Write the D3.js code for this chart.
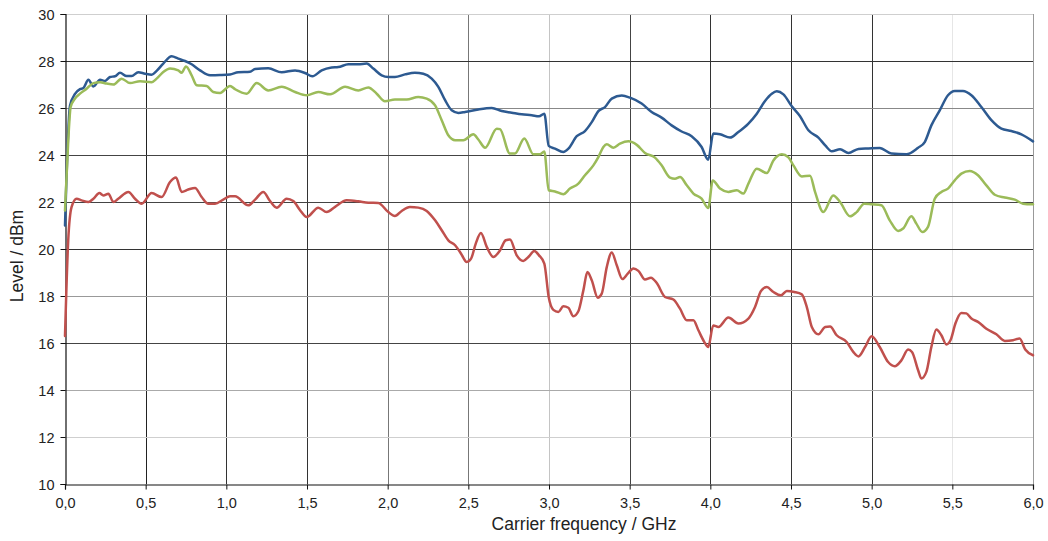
<!DOCTYPE html>
<html>
<head>
<meta charset="utf-8">
<script src="https://cdn.jsdelivr.net/npm/d3@7"></script>
<style>
  html, body { margin: 0; padding: 0; background: #fff; }
  svg { display: block; }
  text { font-family: "Liberation Sans", Arial, sans-serif; fill: #222; }
</style>
</head>
<body>
<svg id="chart" width="1048" height="541"></svg>
<script>
// ---------- data (frequency GHz, level dBm) ----------
const xTicks = [0, 0.5, 1, 1.5, 2, 2.5, 3, 3.5, 4, 4.5, 5, 5.5, 6];
const yTicks = [10, 12, 14, 16, 18, 20, 22, 24, 26, 28, 30];

const seriesBlue = [[0,21.0],[0.031,26.1],[0.062,26.6],[0.093,26.8],[0.114,26.85],[0.145,27.2],[0.176,26.92],[0.217,27.2],[0.248,27.15],[0.279,27.32],[0.31,27.35],[0.341,27.5],[0.382,27.36],[0.413,27.36],[0.454,27.52],[0.496,27.46],[0.537,27.42],[0.568,27.58],[0.609,27.89],[0.661,28.2],[0.702,28.1],[0.744,28.0],[0.785,27.86],[0.837,27.6],[0.899,27.39],[0.961,27.4],[1.023,27.43],[1.074,27.52],[1.147,27.54],[1.178,27.66],[1.26,27.69],[1.343,27.52],[1.426,27.6],[1.488,27.49],[1.533,27.35],[1.591,27.6],[1.653,27.72],[1.694,27.74],[1.756,27.86],[1.818,27.86],[1.87,27.89],[1.911,27.68],[1.963,27.39],[2.004,27.32],[2.045,27.32],[2.107,27.43],[2.169,27.5],[2.221,27.46],[2.273,27.25],[2.314,26.9],[2.356,26.33],[2.397,25.9],[2.438,25.79],[2.48,25.83],[2.562,25.94],[2.645,26.0],[2.707,25.87],[2.769,25.8],[2.831,25.73],[2.893,25.69],[2.938,25.65],[2.971,25.76],[2.998,24.39],[3.037,24.27],[3.089,24.13],[3.12,24.27],[3.172,24.8],[3.223,25.02],[3.265,25.4],[3.306,25.87],[3.347,26.04],[3.389,26.4],[3.451,26.53],[3.502,26.44],[3.574,26.19],[3.636,25.83],[3.698,25.59],[3.76,25.26],[3.822,25.0],[3.884,24.8],[3.946,24.34],[3.987,23.8],[4.018,24.91],[4.06,24.88],[4.122,24.74],[4.174,24.98],[4.236,25.34],[4.288,25.76],[4.339,26.3],[4.381,26.61],[4.412,26.71],[4.453,26.58],[4.505,26.07],[4.556,25.65],[4.608,25.05],[4.67,24.74],[4.712,24.41],[4.753,24.16],[4.804,24.24],[4.856,24.09],[4.918,24.26],[4.98,24.28],[5.05,24.3],[5.122,24.06],[5.215,24.03],[5.288,24.31],[5.329,24.55],[5.37,25.26],[5.422,25.9],[5.473,26.54],[5.515,26.72],[5.566,26.72],[5.618,26.54],[5.68,26.04],[5.742,25.48],[5.804,25.12],[5.866,25.02],[5.928,24.88],[6.0,24.58]];

const seriesGreen = [[0,21.64],[0.02,24.6],[0.035,26.04],[0.062,26.4],[0.093,26.61],[0.134,26.82],[0.176,27.06],[0.217,27.1],[0.258,27.04],[0.3,27.0],[0.351,27.25],[0.403,27.06],[0.465,27.14],[0.537,27.1],[0.568,27.25],[0.609,27.53],[0.651,27.68],[0.702,27.6],[0.723,27.5],[0.75,27.77],[0.785,27.39],[0.816,26.97],[0.878,26.94],[0.919,26.68],[0.961,26.64],[1.023,26.94],[1.054,26.8],[1.126,26.61],[1.188,27.06],[1.26,26.75],[1.343,26.9],[1.426,26.68],[1.498,26.54],[1.57,26.68],[1.643,26.58],[1.736,26.9],[1.818,26.75],[1.88,26.87],[1.932,26.61],[1.983,26.29],[2.045,26.36],[2.118,26.36],[2.19,26.47],[2.242,26.4],[2.294,26.11],[2.335,25.48],[2.376,24.84],[2.418,24.63],[2.469,24.63],[2.531,24.88],[2.562,24.66],[2.604,24.31],[2.676,25.12],[2.696,25.1],[2.758,24.06],[2.789,24.06],[2.847,24.7],[2.903,24.03],[2.944,24.03],[2.971,24.15],[2.998,22.5],[3.037,22.45],[3.089,22.33],[3.13,22.57],[3.182,22.78],[3.223,23.14],[3.275,23.56],[3.306,23.91],[3.337,24.34],[3.358,24.46],[3.399,24.31],[3.44,24.48],[3.492,24.58],[3.544,24.43],[3.595,24.09],[3.657,23.89],[3.698,23.56],[3.75,23.04],[3.781,22.99],[3.812,23.06],[3.854,22.71],[3.895,22.36],[3.946,22.14],[3.987,21.74],[4.015,22.92],[4.06,22.57],[4.112,22.43],[4.164,22.5],[4.205,22.36],[4.236,22.78],[4.288,23.42],[4.35,23.23],[4.391,23.77],[4.443,24.03],[4.484,23.9],[4.515,23.56],[4.567,23.09],[4.618,23.12],[4.649,22.43],[4.7,21.57],[4.762,22.28],[4.804,22.0],[4.866,21.39],[4.907,21.57],[4.954,21.93],[5.0,21.9],[5.06,21.86],[5.112,21.22],[5.164,20.77],[5.195,20.87],[5.246,21.39],[5.277,21.08],[5.314,20.72],[5.35,20.95],[5.391,22.14],[5.432,22.43],[5.473,22.57],[5.515,22.92],[5.556,23.21],[5.608,23.32],[5.659,23.14],[5.711,22.71],[5.763,22.31],[5.825,22.19],[5.887,22.1],[5.938,21.93],[6.0,21.9]];

const seriesRed = [[0,16.3],[0.02,20.37],[0.041,21.79],[0.072,22.14],[0.103,22.07],[0.145,22.0],[0.176,22.14],[0.213,22.38],[0.238,22.28],[0.269,22.35],[0.3,22.0],[0.33,22.14],[0.393,22.43],[0.434,22.14],[0.475,21.93],[0.537,22.38],[0.599,22.21],[0.651,22.85],[0.688,23.04],[0.723,22.43],[0.764,22.53],[0.806,22.6],[0.847,22.21],[0.888,21.93],[0.93,21.93],[0.981,22.1],[1.023,22.24],[1.054,22.24],[1.136,21.86],[1.178,22.1],[1.229,22.43],[1.271,22.04],[1.312,21.76],[1.374,22.14],[1.415,22.04],[1.457,21.65],[1.498,21.36],[1.57,21.76],[1.622,21.57],[1.674,21.79],[1.746,22.07],[1.818,22.03],[1.88,21.97],[1.942,21.96],[2.004,21.57],[2.045,21.4],[2.087,21.62],[2.138,21.79],[2.19,21.76],[2.242,21.62],[2.294,21.22],[2.335,20.8],[2.376,20.37],[2.418,20.16],[2.455,19.8],[2.49,19.45],[2.517,19.59],[2.546,20.23],[2.578,20.68],[2.614,20.09],[2.655,19.66],[2.696,19.94],[2.732,20.37],[2.758,20.4],[2.8,19.73],[2.841,19.49],[2.872,19.66],[2.909,19.91],[2.938,19.73],[2.971,19.38],[2.998,17.96],[3.027,17.41],[3.058,17.32],[3.089,17.56],[3.12,17.5],[3.151,17.14],[3.182,17.35],[3.213,18.24],[3.238,19.02],[3.265,18.67],[3.302,17.93],[3.327,18.1],[3.358,19.23],[3.389,19.85],[3.42,19.31],[3.455,18.72],[3.488,18.95],[3.523,19.17],[3.554,19.07],[3.595,18.7],[3.632,18.78],[3.668,18.55],[3.719,17.96],[3.771,17.85],[3.812,17.46],[3.854,16.97],[3.895,16.97],[3.926,16.54],[3.963,16.04],[3.987,15.83],[4.018,16.75],[4.05,16.68],[4.112,17.08],[4.174,16.83],[4.236,17.04],[4.277,17.53],[4.314,18.21],[4.35,18.38],[4.391,18.17],[4.438,18.03],[4.474,18.21],[4.52,18.17],[4.567,18.07],[4.598,17.53],[4.629,16.68],[4.67,16.37],[4.712,16.68],[4.742,16.7],[4.783,16.33],[4.845,16.04],[4.886,15.62],[4.918,15.43],[4.959,15.83],[5.0,16.29],[5.05,15.83],[5.102,15.19],[5.143,15.01],[5.184,15.26],[5.226,15.72],[5.25,15.62],[5.288,14.84],[5.308,14.49],[5.339,14.77],[5.37,15.83],[5.401,16.57],[5.432,16.33],[5.463,15.94],[5.49,16.14],[5.519,16.83],[5.556,17.28],[5.587,17.26],[5.618,17.04],[5.659,16.9],[5.711,16.61],[5.773,16.37],[5.825,16.09],[5.876,16.12],[5.917,16.19],[5.952,15.72],[6.0,15.48]];

const xTitle = "Carrier frequency / GHz";
const yTitle = "Level / dBm";

// ---------- layout & styles ----------
const margin = { left: 65, top: 14, right: 15, bottom: 57 };
const W = 1048, H = 541;
const plotW = W - margin.left - margin.right;   // 968
const plotH = H - margin.top - margin.bottom;   // 470

const vGridColor = {0.5:"#222",1:"#333",1.5:"#333",2:"#777",2.5:"#777",3:"#c4c4c4",3.5:"#444",4:"#333",4.5:"#333",5:"#333",5.5:"#e6e6e6",6:"#999"};
const hGridColor = {12:"#cfcfcf",14:"#aaa",16:"#444",18:"#999",20:"#333",22:"#444",24:"#444",26:"#888",28:"#333",30:"#cfcfcf"};

const fmt = d => d3.format(".1f")(d).replace(".", ",");

const svg = d3.select("#chart");
const g = svg.append("g").attr("transform", `translate(${margin.left},${margin.top})`);

const x = d3.scaleLinear().domain([0, 6]).range([0, plotW]);
const y = d3.scaleLinear().domain([10, 30]).range([plotH, 0]);

// grid lines
const grid = g.append("g").attr("class", "grid");
grid.selectAll("line.v").data(xTicks.filter(d => d > 0)).join("line")
  .attr("x1", d => Math.round(x(d)) + 0.5).attr("x2", d => Math.round(x(d)) + 0.5)
  .attr("y1", 0).attr("y2", plotH)
  .attr("stroke", d => vGridColor[d] || "#888").attr("stroke-width", 1);
grid.selectAll("line.h").data(yTicks.filter(d => d > 10)).join("line")
  .attr("x1", 0).attr("x2", plotW)
  .attr("y1", d => Math.round(y(d)) + 0.5).attr("y2", d => Math.round(y(d)) + 0.5)
  .attr("stroke", d => hGridColor[d] || "#888").attr("stroke-width", 1);

// axes
const yAxis = g.append("g")
  .attr("transform", "translate(0.5,0)")
  .call(d3.axisLeft(y).tickValues(yTicks).tickSize(5).tickPadding(6).tickFormat(d3.format("d")));
const xAxis = g.append("g")
  .attr("transform", `translate(0,${plotH + 0.5})`)
  .call(d3.axisBottom(x).tickValues(xTicks).tickSize(5).tickPadding(7).tickFormat(fmt));
[xAxis, yAxis].forEach(a => {
  a.select(".domain").attr("stroke", "#111").attr("stroke-width", 1.2);
  a.selectAll(".tick line").attr("stroke", "#111");
  a.selectAll(".tick text").attr("font-family", '"Liberation Sans", Arial, sans-serif')
    .attr("font-size", 14.5).attr("fill", "#222");
});
xAxis.selectAll(".tick text").attr("dy", "0.8em");
yAxis.selectAll(".tick text").attr("dy", "0.35em");

// lines
const line = d3.line().x(d => x(d[0])).y(d => y(d[1])).curve(d3.curveMonotoneX);
const series = [
  { data: seriesBlue, color: "#2D5A91" },
  { data: seriesGreen, color: "#9BBB59" },
  { data: seriesRed, color: "#C0504D" }
];
g.append("g").selectAll("path").data(series).join("path")
  .attr("d", d => line(d.data))
  .attr("fill", "none")
  .attr("stroke", d => d.color)
  .attr("stroke-width", 2.5)
  .attr("stroke-linejoin", "round")
  .attr("stroke-linecap", "round");

// titles
svg.append("text")
  .attr("x", 584).attr("y", 530)
  .attr("text-anchor", "middle")
  .attr("font-size", 17.5)
  .text(xTitle);
svg.append("text")
  .attr("transform", "translate(23,256) rotate(-90)")
  .attr("text-anchor", "middle")
  .attr("font-size", 17.5)
  .text(yTitle);
</script>
</body>
</html>
